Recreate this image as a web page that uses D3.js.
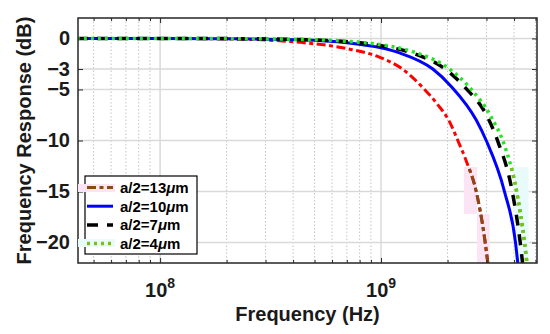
<!DOCTYPE html>
<html>
<head>
  <meta charset="UTF-8" />
  <title>Frequency Response</title>
  <script src="https://d3js.org/d3.v7.min.js"></script>
  <style>
    body { margin: 0; background: #fff; }
    svg { font-family: "Liberation Sans", Arial, sans-serif; font-weight: bold; }
    .tick text { font-size: 20px; fill: #1a1a1a; }
    .tick line { stroke: #262626; stroke-width: 1; }
  </style>
</head>
<body>
<svg id="chart" width="550" height="334"></svg>
<script>
  // readings from the picture (Hz, dB)
  const f13 = [4.2e7, 1e8, 2e8, 2.9e8, 4.28e8, 7e8, 1e9, 1.25e9, 1.55e9, 1.8e9, 2.04e9, 2.226e9, 2.43e9, 2.697e9, 2.939e9, 3.043e9];
  const db13 = [0, 0, -0.05, -0.14, -0.38, -1.0, -1.9, -3, -4.85, -6.45, -8.15, -10, -12, -15, -19.5, -22];

  const f10 = [4.2e7, 1e8, 2e8, 4.28e8, 7e8, 1e9, 1.212e9, 1.715e9, 2.078e9, 2.697e9, 2.992e9, 3.62e9, 4.061e9, 4.159e9];
  const db10 = [0, 0, -0.03, -0.14, -0.42, -0.92, -1.42, -3, -4.7, -8.0, -10, -15, -20, -22];

  const f7 = [4.2e7, 1e8, 2e8, 4.28e8, 7e8, 1e9, 1.418e9, 1.95e9, 2.4e9, 3.05e9, 3.366e9, 3.925e9, 4.265e9, 4.37e9];
  const db7 = [0, 0, -0.02, -0.1, -0.32, -0.72, -1.5, -3, -4.8, -7.8, -10, -15, -20, -22];

  const f4 = [4.2e7, 1e8, 2e8, 4.28e8, 7e8, 1e9, 1.418e9, 2.042e9, 2.515e9, 3.152e9, 3.622e9, 4.091e9, 4.461e9, 4.617e9];
  const db4 = [0, 0, -0.02, -0.09, -0.28, -0.62, -1.35, -3, -4.8, -7.7, -10.5, -14.8, -20, -22.8];

  const labels = ["a/2=13", "a/2=10", "a/2=7", "a/2=4"];
  const yTicks = [0, -3, -5, -10, -15, -20];
  const xMajor = [1e8, 1e9];
  const xExp = [8, 9];

  const width = 550, height = 334;
  const margin = { left: 78, top: 18, right: 13, bottom: 71 };

  const svg = d3.select("#chart");
  const x = d3.scaleLog().domain([4.25e7, 5.08e9]).range([margin.left, width - margin.right]);
  const y = d3.scaleLinear().domain([2, -22]).range([margin.top, height - margin.bottom]);

  // minor log ticks 2..9 of each decade inside the domain
  const xMinor = [];
  [1e7, 1e8, 1e9].forEach(d => {
    for (let k = 2; k <= 9; k++) {
      const v = d * k;
      if (v > x.domain()[0] && v < x.domain()[1]) xMinor.push(v);
    }
  });

  const x0 = x.range()[0], x1 = x.range()[1], y0 = y.range()[0], y1 = y.range()[1];

  // grid
  svg.append("g").selectAll("line").data(xMinor).enter().append("line")
    .attr("x1", d => x(d)).attr("x2", d => x(d)).attr("y1", y0).attr("y2", y1)
    .attr("stroke", "#c4c4c4").attr("stroke-width", 1).attr("stroke-dasharray", "1.5,2");
  svg.append("g").selectAll("line").data(xMajor).enter().append("line")
    .attr("x1", d => x(d)).attr("x2", d => x(d)).attr("y1", y0).attr("y2", y1)
    .attr("stroke", "#d9d9d9").attr("stroke-width", 1.5);
  svg.append("g").selectAll("line").data(yTicks).enter().append("line")
    .attr("x1", x0).attr("x2", x1).attr("y1", d => y(d)).attr("y2", d => y(d))
    .attr("stroke", "#d9d9d9").attr("stroke-width", 1.5);

  // faint highlight patches seen under the lower curve ends
  const patches = [
    { f: [2.37e9, 2.72e9], d: [-12.6, -17.2], c: "#fbe4f4" },
    { f: [2.72e9, 3.1e9], d: [-17.2, -22], c: "#fbe4f4" },
    { f: [4.0e9, 4.65e9], d: [-12.6, -22], c: "#e8fbfa" }
  ];
  svg.append("g").selectAll("rect").data(patches).enter().append("rect")
    .attr("x", d => x(d.f[0])).attr("width", d => x(d.f[1]) - x(d.f[0]))
    .attr("y", d => y(d.d[0])).attr("height", d => y(d.d[1]) - y(d.d[0]))
    .attr("fill", d => d.c);

  const defs = svg.append("defs");
  defs.append("clipPath").attr("id", "plot").append("rect")
    .attr("x", x0).attr("y", y0).attr("width", x1 - x0).attr("height", y1 - y0);
  defs.append("clipPath").attr("id", "lower").append("rect")
    .attr("x", x0).attr("y", y(-12.6)).attr("width", x1 - x0).attr("height", y1 - y(-12.6));

  const line = d3.line().x(d => x(d[0])).y(d => y(d[1])).curve(d3.curveMonotoneX);

  const series = [
    { f: f13, db: db13, color: "#ff0000", low: "#8a4a18", dash: "9,3.5,4,3.5", w: 3 },
    { f: f10, db: db10, color: "#0000ff", low: null, dash: null, w: 3 },
    { f: f7, db: db7, color: "#000000", low: null, dash: "11,9", w: 3.5 },
    { f: f4, db: db4, color: "#22e622", low: "#7cbf1c", dash: "3,4", w: 3.5 }
  ];

  const curves = svg.append("g").attr("clip-path", "url(#plot)");
  series.forEach(s => {
    const pts = s.f.map((v, i) => [v, s.db[i]]);
    curves.append("path").datum(pts)
      .attr("d", line).attr("fill", "none")
      .attr("stroke", s.color).attr("stroke-width", s.w)
      .attr("stroke-dasharray", s.dash);
    if (s.low) {
      curves.append("g").attr("clip-path", "url(#lower)")
        .append("path").datum(pts)
        .attr("d", line).attr("fill", "none")
        .attr("stroke", s.low).attr("stroke-width", s.w)
        .attr("stroke-dasharray", s.dash);
    }
  });

  // axes, ticks pointing inward on all four sides
  svg.append("g").attr("transform", `translate(0,${y1})`)
    .call(d3.axisBottom(x).tickValues(xMajor).tickSize(-5).tickSizeOuter(0).tickFormat(""));
  svg.append("g").attr("transform", `translate(0,${y1})`)
    .call(d3.axisBottom(x).tickValues(xMinor).tickSize(-3).tickSizeOuter(0).tickFormat(""));
  svg.append("g").attr("transform", `translate(0,${y0})`)
    .call(d3.axisTop(x).tickValues(xMajor).tickSize(-5).tickSizeOuter(0).tickFormat(""));
  svg.append("g").attr("transform", `translate(0,${y0})`)
    .call(d3.axisTop(x).tickValues(xMinor).tickSize(-3).tickSizeOuter(0).tickFormat(""));
  svg.append("g").attr("transform", `translate(${x0},0)`)
    .call(d3.axisLeft(y).tickValues(yTicks).tickSize(-5).tickSizeOuter(0).tickPadding(8).tickFormat(d3.format("d")));
  svg.append("g").attr("transform", `translate(${x1},0)`)
    .call(d3.axisRight(y).tickValues(yTicks).tickSize(-5).tickSizeOuter(0).tickFormat(""));
  svg.selectAll(".domain").remove();
  svg.selectAll(".tick text").attr("font-family", null).attr("font-size", null);

  // 10^n labels
  const xl = svg.append("g").selectAll("text").data(xMajor).enter().append("text")
    .attr("x", d => x(d)).attr("y", y1 + 34)
    .attr("text-anchor", "middle").attr("font-size", 20).attr("fill", "#1a1a1a");
  xl.append("tspan").text("10");
  xl.append("tspan").attr("dy", -9).attr("font-size", 14).text((d, i) => xExp[i]);

  // box
  svg.append("rect").attr("x", x0).attr("y", y0).attr("width", x1 - x0).attr("height", y1 - y0)
    .attr("fill", "none").attr("stroke", "#262626").attr("stroke-width", 1.5);

  // axis titles
  svg.append("text").attr("x", (x0 + x1) / 2).attr("y", 321)
    .attr("text-anchor", "middle").attr("font-size", 20).attr("fill", "#1a1a1a")
    .text("Frequency (Hz)");
  svg.append("text").attr("transform", `translate(31,${(y0 + y1) / 2}) rotate(-90)`)
    .attr("text-anchor", "middle").attr("font-size", 20).attr("fill", "#1a1a1a")
    .text("Frequency Response (dB)");

  // legend
  const lg = svg.append("g");
  lg.append("rect").attr("x", 85).attr("y", 176).attr("width", 112).attr("height", 78)
    .attr("fill", "#fff").attr("stroke", "#000").attr("stroke-width", 1.2);
  lg.append("rect").attr("x", x0).attr("y", 184).attr("width", 37).attr("height", 8).attr("fill", "#fbe4f4");
  lg.append("rect").attr("x", x0).attr("y", 239).attr("width", 37).attr("height", 8).attr("fill", "#e8fbfa");
  const legendColors = ["#8a4a18", "#0000ff", "#000000", "#7cbf1c"];
  series.forEach((s, i) => {
    const ly = 187.5 + i * 18.7;
    lg.append("line").attr("x1", 87).attr("x2", 113).attr("y1", ly).attr("y2", ly)
      .attr("stroke", legendColors[i]).attr("stroke-width", s.w)
      .attr("stroke-dasharray", s.dash);
    const t = lg.append("text").attr("x", 120).attr("y", ly + 5.5)
      .attr("font-size", 15).attr("fill", "#000");
    t.append("tspan").text(labels[i]);
    t.append("tspan").attr("font-style", "italic").text("\u03bc");
    t.append("tspan").text("m");
  });
</script>
</body>
</html>
